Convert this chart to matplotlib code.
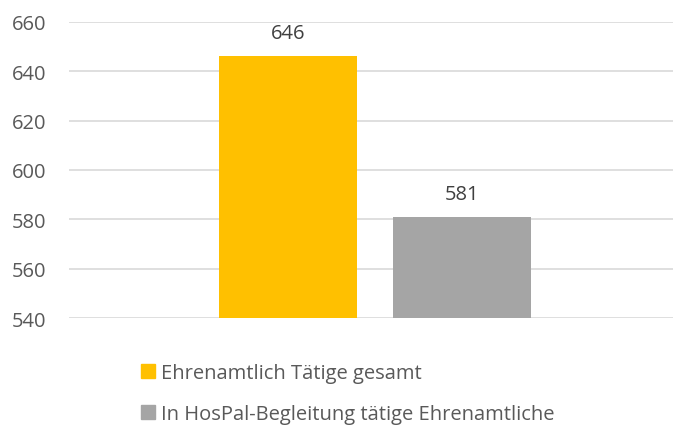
import matplotlib
matplotlib.use("Agg")
import matplotlib.pyplot as plt
from matplotlib.patches import Patch

series = ["Ehrenamtlich Tätige gesamt", "In HosPal-Begleitung tätige Ehrenamtliche"]
values = [646, 581]
colors = ["#FFC000", "#A5A5A5"]
yticks = [540, 560, 580, 600, 620, 640, 660]

plt.rcParams["font.family"] = ["Open Sans", "DejaVu Sans"]
text_color = "#595959"
fs = 14.5

fig = plt.figure(figsize=(6.75, 4.27), dpi=100)
# axes box in figure pixels: x 69..673, y 22.7..319.3
ax = fig.add_axes([69 / 675, 1 - 319.3 / 427, 604 / 675, 296.6 / 427])

pos = [0, 1]
bars = ax.bar(pos, values, width=0.792, color=colors, zorder=3)
for b, v in zip(bars, values):
    ax.annotate(str(v), (b.get_x() + b.get_width() / 2, v), xytext=(0, 13),
                textcoords="offset points", ha="center", va="baseline",
                fontsize=fs, color="#404040")

ax.set_xlim(-1.255, 2.211)
ax.set_ylim(540, 660)
ax.set_yticks(yticks)
ax.set_xticks([])
ax.yaxis.grid(True, color="#D9D9D9", linewidth=1.2, zorder=0)
for s in ax.spines.values():
    s.set_visible(False)
ax.tick_params(axis="y", length=0, labelsize=fs, labelcolor=text_color, pad=16.5)

handles = [Patch(color=c, label=s) for c, s in zip(colors, series)]
fig.legend(handles=handles, loc="upper left", bbox_to_anchor=(141 / 675, 1 - 364 / 427),
           frameon=False, fontsize=fs, labelcolor=text_color, handlelength=0.68,
           handleheight=0.68, handletextpad=0.3, labelspacing=1.05,
           borderaxespad=0, borderpad=0)

fig.savefig("out.png", dpi=100)
